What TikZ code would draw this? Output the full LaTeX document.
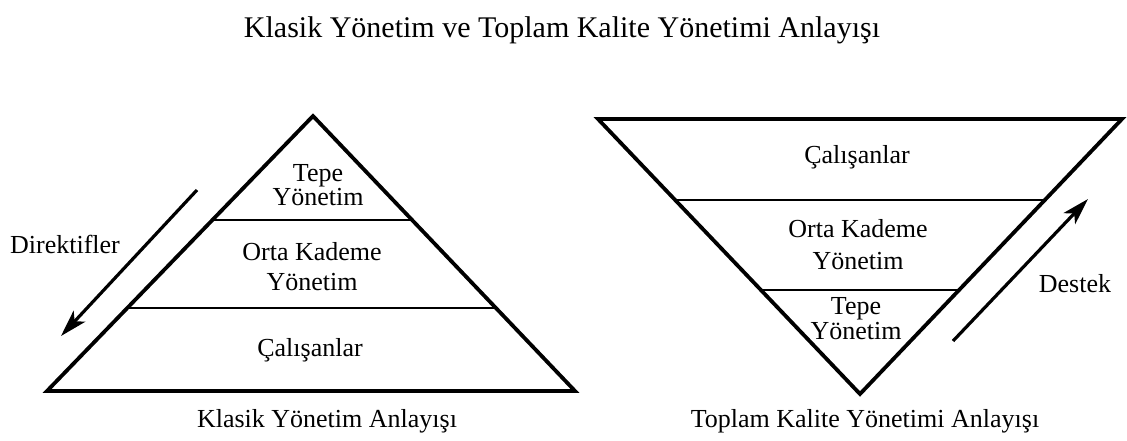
\documentclass[tikz,border=0pt]{standalone}
\usepackage{fontspec}
\setmainfont{Liberation Serif}
\usetikzlibrary{arrows.meta,calc}
\begin{document}
\begin{tikzpicture}[x=1pt,y=-1pt,
  edge/.style={line width=3.8pt,line join=miter},
  divider/.style={line width=2.6pt},
  lbl/.style={font=\fontsize{26}{30}\selectfont,align=center,inner sep=0pt},
  ttl/.style={font=\fontsize{30}{34}\selectfont,inner sep=0pt},
  flow/.style={line width=3.2pt,-{Stealth[length=27pt,width=16pt,inset=7pt]}}]
\useasboundingbox (0,0) rectangle (1127,440);

% title
\node[ttl] (title) at (562,30) {Klasik Yönetim ve Toplam Kalite Yönetimi Anlayışı};

% left pyramid
\coordinate (LA) at (313,116);
\coordinate (LBL) at (47,391);
\coordinate (LBR) at (575,391);
\draw[edge] (LBL) -- (LA) -- (LBR) -- cycle;
\draw[divider] ($(LBL)!0.6218!(LA)$) -- ($(LBR)!0.6218!(LA)$);
\draw[divider] ($(LBL)!0.3018!(LA)$) -- ($(LBR)!0.3018!(LA)$);
\node[lbl,font=\fontsize{26}{24}\selectfont] (ltop) at (318,185) {Tepe\\Yönetim};
\node[lbl] (lmid) at (312,267) {Orta Kademe\\Yönetim};
\node[lbl] (lbot) at (310,350) {Çalışanlar};
\node[lbl] (lcap) at (327,421) {Klasik Yönetim Anlayışı};
\node[lbl] (dir) at (65,244) {Direktifler};
\coordinate (d1) at (197,190);
\coordinate (d2) at (61,336);
\draw[flow] (d1) -- (d2);

% right (inverted) pyramid
\coordinate (RTL) at (598,119);
\coordinate (RTR) at (1122,119);
\coordinate (RV) at (860,394);
\draw[edge] (RTL) -- (RTR) -- (RV) -- cycle;
\draw[divider] ($(RTL)!0.2945!(RV)$) -- ($(RTR)!0.2945!(RV)$);
\draw[divider] ($(RTL)!0.6218!(RV)$) -- ($(RTR)!0.6218!(RV)$);
\node[lbl] (rtop) at (857,157) {Çalışanlar};
\node[lbl,font=\fontsize{26}{32}\selectfont] (rmid) at (858,245) {Orta Kademe\\Yönetim};
\node[lbl,font=\fontsize{26}{25}\selectfont] (rbot) at (856,319) {Tepe\\Yönetim};
\node[lbl] (rcap) at (865,421) {Toplam Kalite Yönetimi Anlayışı};
\node[lbl] (des) at (1075,284) {Destek};
\coordinate (s1) at (953,341);
\coordinate (s2) at (1088,199);
\draw[flow] (s1) -- (s2);
\end{tikzpicture}
\end{document}
